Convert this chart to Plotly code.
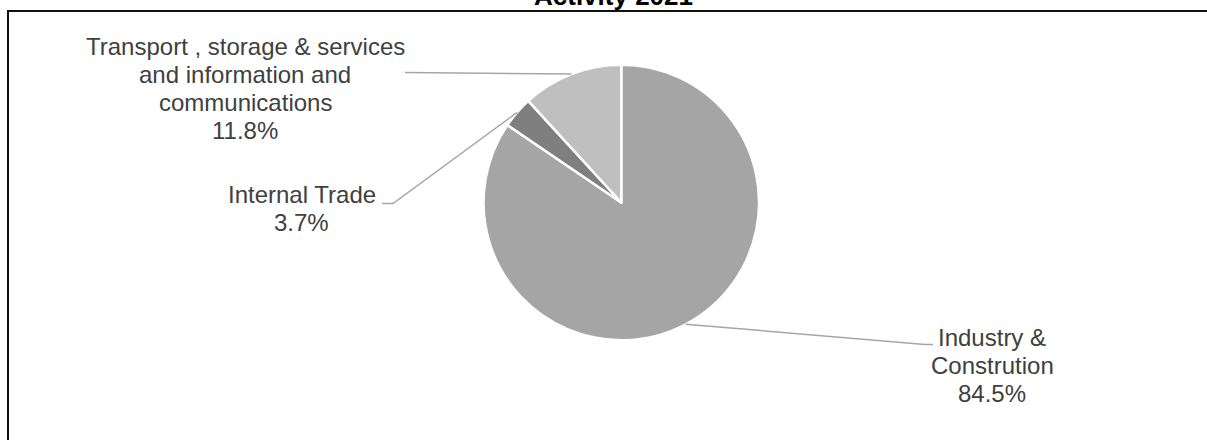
import math
import plotly.graph_objects as go

# ---- data ----
categories = ["Industry &<br>Constrution", "Internal Trade",
              "Transport , storage & services<br>and information and<br>communications"]
values = [84.5, 3.7, 11.8]
colors = ["#a5a5a5", "#7f7f7f", "#bfbfbf"]
title_text = "Activity 2021"

# ---- layout constants (pixels) ----
W, H = 1207, 440
CX, CY, R = 621.3, 202.5, 137.75
FONT = "Liberation Sans, Arial, sans-serif"
LABEL_SIZE = 24
LINE_STEP = 27.8
# label block centre x and first baseline y, per category
label_x = [992, 301.5, 245]
label_base = [346, 203, 55]
# leader line points from label side (before slice midpoint)
leader_pts = [[(933, 344.5), (925, 344.5)],
              [(382, 203.5), (393, 203.5)],
              [(405, 72.5)]]


def px(x):
    return x / W


def py(y):
    return 1 - y / H


fig = go.Figure()
fig.add_trace(go.Pie(
    labels=[c.replace("<br>", " ") for c in categories],
    values=values,
    sort=False,
    direction="clockwise",
    rotation=0,
    marker=dict(colors=colors, line=dict(color="#ffffff", width=2.5)),
    textinfo="none",
    hoverinfo="label+percent",
    showlegend=False,
    domain=dict(x=[px(CX - R), px(CX + R)], y=[py(CY + R), py(CY - R)]),
))

annotations = []
shapes = []
total = sum(values)
cum = 0.0
for i, (cat, v) in enumerate(zip(categories, values)):
    lines = cat.split("<br>") + [f"{v / total * 100:.1f}%"]
    for j, ln in enumerate(lines):
        ymid = label_base[i] + j * LINE_STEP - 0.3465 * LABEL_SIZE
        annotations.append(dict(
            x=px(label_x[i]), y=py(ymid), xref="paper", yref="paper",
            text=ln, showarrow=False, xanchor="center", yanchor="middle",
            font=dict(family=FONT, size=LABEL_SIZE, color="#404040"),
        ))
    theta = 2 * math.pi * (cum + v / 2) / total
    mx = CX + R * math.sin(theta)
    my = CY - R * math.cos(theta)
    pts = leader_pts[i] + [(mx, my)]
    path = "M " + " L ".join(f"{px(x):.5f},{py(y):.5f}" for x, y in pts)
    shapes.append(dict(type="path", xref="paper", yref="paper", path=path,
                       line=dict(color="#a6a6a6", width=1.5)))
    cum += v

# title (partly cut off at top, as in the reference)
annotations.append(dict(
    x=px(613.5), y=py(5.5 - 0.3465 * 26), xref="paper", yref="paper",
    text=f"<b>{title_text}</b>", showarrow=False, xanchor="center", yanchor="middle",
    font=dict(family=FONT, size=26, color="#000000"),
))

# chart frame (left and top edges visible)
shapes.append(dict(type="path", xref="paper", yref="paper",
                   path=f"M {px(8):.5f},{py(445):.5f} L {px(8):.5f},{py(11):.5f} L {px(1210):.5f},{py(11):.5f}",
                   line=dict(color="#111111", width=2)))

fig.update_layout(
    width=W, height=H,
    margin=dict(l=0, r=0, t=0, b=0),
    paper_bgcolor="#ffffff",
    plot_bgcolor="#ffffff",
    annotations=annotations,
    shapes=shapes,
)

fig.write_html(
    "out.html",
    config={"displayModeBar": False},
    post_script="document.body.style.margin='0';document.body.style.padding='0';"
                "document.body.style.overflow='hidden';"
                "document.documentElement.style.overflow='hidden';",
)
